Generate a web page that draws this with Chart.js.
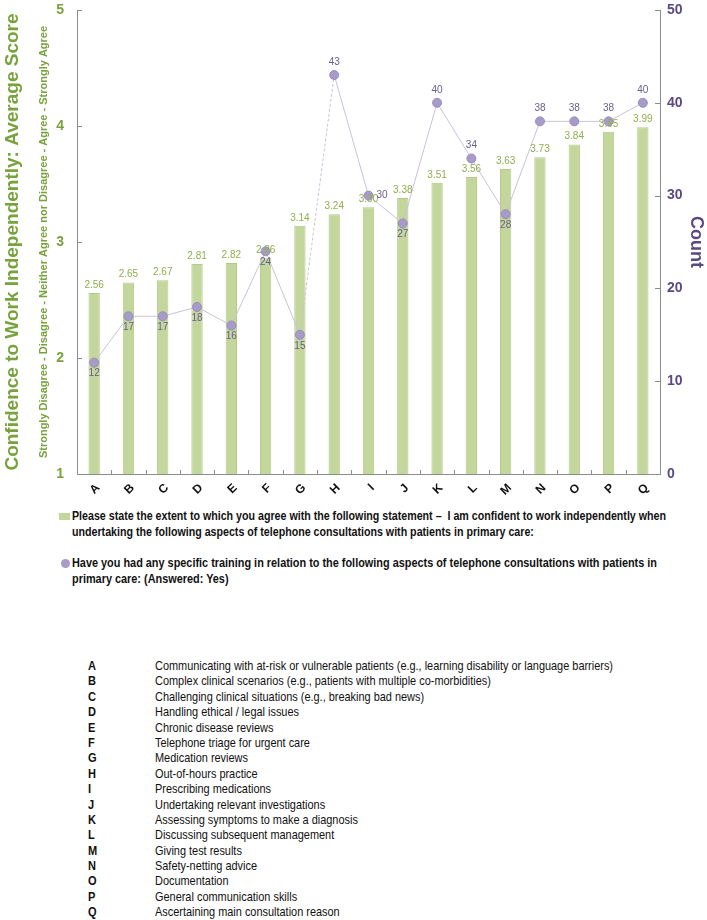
<!DOCTYPE html>
<html>
<head>
<meta charset="utf-8">
<script src="https://cdn.jsdelivr.net/npm/chart.js@4.4.1/dist/chart.umd.min.js"></script>
<style>
    html, body { margin: 0; padding: 0; background: #fff; }
    body { width: 707px; height: 920px; position: relative; overflow: hidden; font-family: "Liberation Sans", Arial, sans-serif; }
    #chartBox { position: absolute; left: 0; top: 0; width: 707px; height: 500px; }
    .legend-row { position: absolute; left: 72px; font-size: 13px; font-weight: bold; color: #111; line-height: 16px; }
    .legend-row .txt { display: inline-block; white-space: nowrap; transform-origin: 0 0; }
    .legend-swatch { position: absolute; left: -13px; top: 5px; width: 11px; height: 7px; background: #c3d69b; }
    .legend-dot { position: absolute; left: -11px; top: 4px; width: 9px; height: 9px; border-radius: 50%; background: #a79bc8; }
    #keyList { position: absolute; left: 88px; top: 658px; font-size: 13px; color: #111; }
    #keyList div { height: 15.4px; line-height: 15.4px; white-space: nowrap; position: relative; }
    #keyList b { position: absolute; left: 0; top: 0; display: inline-block; transform-origin: 0 0; }
    #keyList span { position: absolute; left: 67px; top: 0; display: inline-block; transform-origin: 0 0; }
</style>
</head>
<body>
<div id="chartBox"><canvas id="mainChart"></canvas></div>

<div class="legend-row" style="top:508px;">
    <span class="legend-swatch"></span><span class="txt" data-fit="594">Please state the extent to which you agree with the following statement &ndash;&nbsp; I am confident to work independently when<br>undertaking the following aspects of telephone consultations with patients in primary care:</span>
</div>
<div class="legend-row" style="top:555px;">
    <span class="legend-dot"></span><span class="txt" data-fit="585">Have you had any specific training in relation to the following aspects of telephone consultations with patients in<br>primary care: (Answered: Yes)</span>
</div>

<div id="keyList"></div>

<script>
// Chart data
const categories = ['A', 'B', 'C', 'D', 'E', 'F', 'G', 'H', 'I', 'J', 'K', 'L', 'M', 'N', 'O', 'P', 'Q'];
const avgScores = [2.56, 2.65, 2.67, 2.81, 2.82, 2.86, 3.14, 3.24, 3.30, 3.38, 3.51, 3.56, 3.63, 3.73, 3.84, 3.95, 3.99];
const trainedCounts = [12, 17, 17, 18, 16, 24, 15, 43, 30, 27, 40, 34, 28, 38, 38, 38, 40];
const scoreTicks = [1, 2, 3, 4, 5];
const countTicks = [0, 10, 20, 30, 40, 50];
const categoryNames = [
    'Communicating with at-risk or vulnerable patients (e.g., learning disability or language barriers)',
    'Complex clinical scenarios (e.g., patients with multiple co-morbidities)',
    'Challenging clinical situations (e.g., breaking bad news)',
    'Handling ethical / legal issues',
    'Chronic disease reviews',
    'Telephone triage for urgent care',
    'Medication reviews',
    'Out-of-hours practice',
    'Prescribing medications',
    'Undertaking relevant investigations',
    'Assessing symptoms to make a diagnosis',
    'Discussing subsequent management',
    'Giving test results',
    'Safety-netting advice',
    'Documentation',
    'General communication skills',
    'Ascertaining main consultation reason'
];

// where each count label sits relative to its point
const countLabelSide = ['below', 'below', 'below', 'below', 'below', 'below', 'below', 'above', 'right', 'below',
    'above', 'above', 'below', 'above', 'above', 'above', 'above'];

const GREEN = '#77a23c';
const PURPLE = '#5b4a82';
const AXIS_GREY = '#8c8c8c';

// Squeeze Liberation Sans to look like a narrow face
function fitWidth(el, target) {
    const w = el.getBoundingClientRect().width;
    el.style.transform = `scaleX(${target / w})`;
}
document.querySelectorAll('.legend-row .txt').forEach(el => fitWidth(el, +el.dataset.fit));

// Key list below the chart
const keyList = document.getElementById('keyList');
const descSpans = [];
categories.forEach((cat, i) => {
    const row = document.createElement('div');
    row.innerHTML = `<b>${cat}</b><span>${categoryNames[i]}</span>`;
    keyList.appendChild(row);
    descSpans.push(row.querySelector('span'));
    row.querySelector('b').style.transform = 'scaleX(0.85)';
});
const keyScale = 458 / descSpans[0].getBoundingClientRect().width;
descSpans.forEach(s => { s.style.transform = `scaleX(${keyScale})`; });

// Fix an axis box size so the plot area lands where the original one is
function fixBox(size) {
    return scale => {
        if (scale.isHorizontal()) {
            scale.height = size;
        } else {
            scale.width = size;
            scale.paddingTop = 0;
            scale.paddingBottom = 0;
        }
    };
}

// Value labels for bars and points, plus inward tick marks
const valueLabels = {
    id: 'valueLabels',
    afterDatasetsDraw(chart) {
        const ctx = chart.ctx;
        const area = chart.chartArea;
        ctx.save();

        // inward tick marks
        ctx.strokeStyle = AXIS_GREY;
        ctx.lineWidth = 1;
        ctx.beginPath();
        const ys = chart.scales.yScore;
        scoreTicks.forEach(v => {
            const y = Math.round(ys.getPixelForValue(v)) + 0.5;
            ctx.moveTo(area.left, y);
            ctx.lineTo(area.left + 5, y);
        });
        const yc = chart.scales.yCount;
        countTicks.forEach(v => {
            const y = Math.round(yc.getPixelForValue(v)) + 0.5;
            ctx.moveTo(area.right, y);
            ctx.lineTo(area.right - 5, y);
        });
        const xs = chart.scales.x;
        for (let i = 0; i <= categories.length; i++) {
            const x = Math.round(xs.getPixelForValue(i - 0.5)) + 0.5;
            ctx.moveTo(x, area.bottom);
            ctx.lineTo(x, area.bottom - 4);
        }
        ctx.stroke();

        ctx.font = '10px "Liberation Sans", Arial, sans-serif';
        const barMeta = chart.getDatasetMeta(1);
        ctx.fillStyle = '#8fae4e';
        ctx.textAlign = 'center';
        ctx.textBaseline = 'bottom';
        barMeta.data.forEach((bar, i) => {
            ctx.fillText(avgScores[i].toFixed(2), bar.x, bar.y - 3);
        });

        const lineMeta = chart.getDatasetMeta(0);
        ctx.fillStyle = '#6a5d8c';
        lineMeta.data.forEach((pt, i) => {
            const side = countLabelSide[i];
            if (side === 'above') {
                ctx.textAlign = 'center';
                ctx.textBaseline = 'bottom';
                ctx.fillText(trainedCounts[i], pt.x, pt.y - 8);
            } else if (side === 'right') {
                ctx.textAlign = 'left';
                ctx.textBaseline = 'middle';
                ctx.fillText(trainedCounts[i], pt.x + 8, pt.y);
            } else {
                ctx.textAlign = 'center';
                ctx.textBaseline = 'top';
                ctx.fillText(trainedCounts[i], pt.x, pt.y + 6);
            }
        });
        ctx.restore();
    }
};

const ctx = document.getElementById('mainChart').getContext('2d');
new Chart(ctx, {
    type: 'bar',
    data: {
        labels: categories,
        datasets: [{
            type: 'line',
            label: 'Have you had any specific training (Answered: Yes)',
            data: trainedCounts,
            yAxisID: 'yCount',
            order: 0,
            borderColor: '#c9c2d8',
            borderWidth: 1,
            pointRadius: 4.5,
            pointBackgroundColor: '#a79bc8',
            pointBorderColor: '#9a8cc0',
            pointBorderWidth: 1,
            tension: 0,
            segment: {
                borderDash: c => (c.p0DataIndex === 6 ? [3, 2] : undefined)
            }
        }, {
            type: 'bar',
            label: 'Confident to work independently',
            data: avgScores,
            yAxisID: 'yScore',
            order: 1,
            backgroundColor: '#c3d69b',
            borderColor: '#b4ca86',
            borderWidth: { left: 1, right: 1, top: 1, bottom: 0 },
            barPercentage: 0.33,
            categoryPercentage: 1
        }]
    },
    options: {
        responsive: true,
        maintainAspectRatio: false,
        animation: false,
        layout: { padding: { top: 10, right: 0, left: 0, bottom: 0 } },
        plugins: {
            legend: { display: false },
            tooltip: { enabled: false }
        },
        scales: {
            x: {
                afterFit: fixBox(26),
                grid: { display: true, drawOnChartArea: false, drawTicks: false },
                border: { color: AXIS_GREY, width: 1 },
                ticks: {
                    color: '#111',
                    font: { family: '"Liberation Sans", Arial, sans-serif', size: 12, weight: 'bold' },
                    minRotation: 45,
                    maxRotation: 90,
                    padding: 7,
                    labelOffset: 4
                }
            },
            yScore: {
                type: 'linear',
                position: 'left',
                min: 1,
                max: 5,
                afterBuildTicks: scale => { scale.ticks = scoreTicks.map(v => ({ value: v })); },
                afterFit: fixBox(51),
                grid: { display: true, drawOnChartArea: false, drawTicks: false },
                border: { color: AXIS_GREY, width: 1 },
                ticks: {
                    color: GREEN,
                    font: { family: '"Liberation Sans", Arial, sans-serif', size: 14, weight: 'bold' },
                    padding: 13
                },
                title: {
                    display: true,
                    text: 'Strongly Disagree - Disagree - Neither Agree nor Disagree - Agree - Strongly Agree',
                    color: GREEN,
                    font: { family: '"Liberation Sans", Arial, sans-serif', size: 11, weight: 'bold' },
                    padding: { top: 11, bottom: 6 }
                }
            },
            yTitle: {
                type: 'linear',
                position: 'left',
                weight: 1,
                display: true,
                afterFit: fixBox(26),
                ticks: { display: false },
                grid: { display: false },
                border: { display: false },
                title: {
                    display: true,
                    text: 'Confidence to Work Independently: Average Score',
                    color: GREEN,
                    font: { family: '"Liberation Sans", Arial, sans-serif', size: 19, weight: 'bold' },
                    padding: { top: 1, bottom: 2 }
                }
            },
            yCount: {
                type: 'linear',
                position: 'right',
                min: 0,
                max: 50,
                afterBuildTicks: scale => { scale.ticks = countTicks.map(v => ({ value: v })); },
                afterFit: fixBox(47),
                grid: { display: true, drawOnChartArea: false, drawTicks: false },
                border: { color: AXIS_GREY, width: 1 },
                ticks: {
                    color: PURPLE,
                    font: { family: '"Liberation Sans", Arial, sans-serif', size: 14, weight: 'bold' },
                    padding: 7
                },
                title: {
                    display: true,
                    text: 'Count',
                    color: PURPLE,
                    font: { family: '"Liberation Sans", Arial, sans-serif', size: 18, weight: 'bold' },
                    padding: { top: 0, bottom: 0 }
                }
            }
        }
    },
    plugins: [valueLabels]
});
</script>
</body>
</html>
